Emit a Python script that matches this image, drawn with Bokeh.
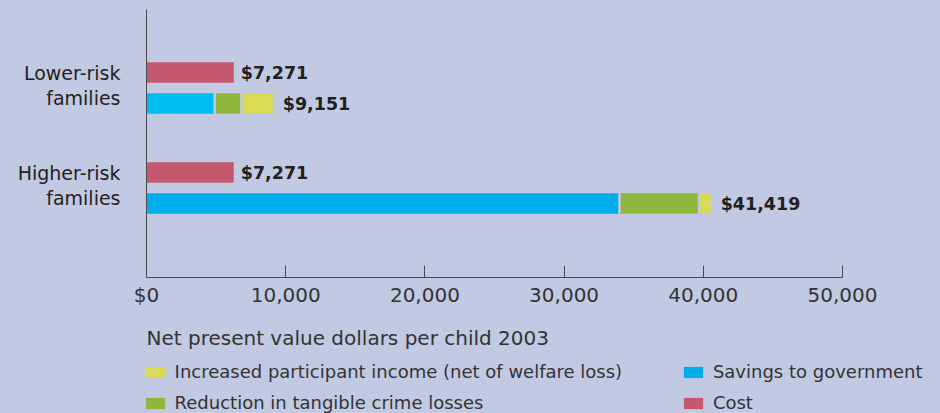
from bokeh.plotting import figure
from bokeh.models import Range1d, FixedTicker, Legend, LegendItem, ColumnDataSource, Label
from bokeh.core.properties import value
from bokeh.embed import file_html
from bokeh.resources import INLINE

# ---------------- data ----------------
groups = ["Lower-risk families", "Higher-risk families"]
group_tick_labels = ["Lower-risk\nfamilies", "Higher-risk\nfamilies"]
cost = [6265, 6265]
savings = [4900, 33980]
crime = [1910, 5710]
income = [2260, 840]
cost_labels = ["$7,271", "$7,271"]
benefit_labels = ["$9,151", "$41,419"]
x_ticks = [0, 10000, 20000, 30000, 40000, 50000]
x_tick_labels = ["$0", "10,000", "20,000", "30,000", "40,000", "50,000"]
x_title = "Net present value dollars per child 2003"
name_income = "Increased participant income (net of welfare loss)"
name_crime = "Reduction in tangible crime losses"
name_savings = "Savings to government"
name_cost = "Cost"

# ---------------- style ----------------
BG = "#C2C9E3"
C_COST = "#C3586F"
C_SAV = ["#00BEF2", "#00AEEC"]
C_CRIME = "#8FB73E"
C_INC = "#DADA55"
TXT = "#231F20"
TXT2 = "#333333"
AX = "#4A4A4A"
FONT = "DejaVu Sans"

n = len(groups)
base, step, inner, bar_h = 74, 100, 31, 20.5
y_ben = [base + (n - 1 - i) * step for i in range(n)]
y_cost = [y + inner for y in y_ben]
s1 = [s for s in savings]
c1 = [s + c for s, c in zip(savings, crime)]
i1 = [s + c + k for s, c, k in zip(savings, crime, income)]
y_group_ticks = [int(round((a + b) / 2 + 2.5)) for a, b in zip(y_ben, y_cost)]

src = ColumnDataSource(dict(
    y_ben=y_ben, y_cost=y_cost, cost=cost, s1=s1, c1=c1, i1=i1,
    y_lo=[y - bar_h / 2 for y in y_ben], y_hi=[y + bar_h / 2 for y in y_ben],
    sav_color=C_SAV, cost_label=cost_labels, benefit_label=benefit_labels,
))

# ---------------- main chart ----------------
p = figure(width=940, height=312, output_backend="svg", toolbar_location=None,
           x_range=Range1d(0, 50000), y_range=Range1d(0, 268),
           min_border_left=146, min_border_right=98, min_border_top=9, min_border_bottom=35,
           background_fill_color=BG, border_fill_color=BG,
           outline_line_color=BG, outline_line_width=2)

def bars(fig):
    rc = fig.hbar(y="y_cost", left=0, right="cost", height=bar_h, fill_color=C_COST, line_color=None, source=src)
    rs = fig.hbar(y="y_ben", left=0, right="s1", height=bar_h, fill_color="sav_color", line_color=None, source=src)
    rk = fig.hbar(y="y_ben", left="s1", right="c1", height=bar_h, fill_color=C_CRIME, line_color=None, source=src)
    ri = fig.hbar(y="y_ben", left="c1", right="i1", height=bar_h, fill_color=C_INC, line_color=None, source=src)
    return rc, rs, rk, ri

r_cost, r_sav, r_crime, r_inc = bars(p)
p.segment(x0="s1", y0="y_lo", x1="s1", y1="y_hi", line_color=BG, line_width=2.5, source=src)
p.segment(x0="c1", y0="y_lo", x1="c1", y1="y_hi", line_color=BG, line_width=2.5, source=src)

p.text(x="cost", y="y_cost", text="cost_label", x_offset=7, text_baseline="middle",
       text_font=value(FONT), text_font_style="bold", text_font_size="17.5px", text_color=TXT, source=src)
p.text(x="i1", y="y_ben", text="benefit_label", x_offset=10, text_baseline="middle",
       text_font=value(FONT), text_font_style="bold", text_font_size="17.5px", text_color=TXT, source=src)

p.xgrid.grid_line_color = None
p.ygrid.grid_line_color = None
xa = p.xaxis[0]
xa.ticker = FixedTicker(ticks=x_ticks)
xa.major_label_overrides = dict(zip(x_ticks, x_tick_labels))
xa.major_tick_in = 12
xa.major_tick_out = 0
xa.minor_tick_line_color = None
xa.axis_line_color = AX
xa.major_tick_line_color = AX
xa.major_label_text_font = FONT
xa.major_label_text_font_size = "20px"
xa.major_label_text_color = TXT2
xa.major_label_standoff = 5

ya = p.yaxis[0]
ya.ticker = FixedTicker(ticks=y_group_ticks)
ya.major_label_overrides = dict(zip(y_group_ticks, group_tick_labels))
ya.major_tick_in = 0
ya.major_tick_out = 0
ya.major_tick_line_color = None
ya.minor_tick_line_color = None
ya.major_label_standoff = 26
ya.major_label_text_font = FONT
ya.major_label_text_font_size = "19px"
ya.major_label_text_color = TXT
ya.major_label_text_line_height = 1.13
ya.axis_line_color = AX

# ---------------- axis title + legend strip ----------------
q = figure(width=940, height=101, output_backend="svg", toolbar_location=None,
           x_range=Range1d(-5000, -4060), y_range=Range1d(-5101, -5000),
           min_border_left=0, min_border_right=0, min_border_top=0, min_border_bottom=0,
           background_fill_color=BG, border_fill_color=BG, outline_line_color=None)
q.axis.visible = False
q.xgrid.grid_line_color = None
q.ygrid.grid_line_color = None
lq_cost, lq_sav, lq_crime, lq_inc = bars(q)   # same bars, far outside this strip's view; used as legend glyphs

q.add_layout(Label(x=146, y=76, x_units="screen", y_units="screen", text=x_title,
                   text_align="left", text_baseline="alphabetic",
                   text_font=FONT, text_font_size="20px", text_color=TXT2))

leg_style = dict(padding=0, margin=0, spacing=10, glyph_width=24, glyph_height=14, label_standoff=8,
                 label_text_font=FONT, label_text_font_size="18px", label_text_color=TXT2,
                 background_fill_alpha=0, border_line_color=None)
leg1 = Legend(items=[LegendItem(label=name_income, renderers=[lq_inc]),
                     LegendItem(label=name_crime, renderers=[lq_crime])],
              location=(142.6, 0), **leg_style)
leg2 = Legend(items=[LegendItem(label=name_savings, renderers=[lq_sav], index=1),
                     LegendItem(label=name_cost, renderers=[lq_cost])],
              location=(680.9, 0), **leg_style)
q.add_layout(leg1)
q.add_layout(leg2)

html = file_html([p, q], INLINE, title="chart")
css = "<style>html, body, body > div { background-color: %s !important; }</style></head>" % BG
html = html.replace("</head>", css, 1)
open("out.html", "w").write(html)
